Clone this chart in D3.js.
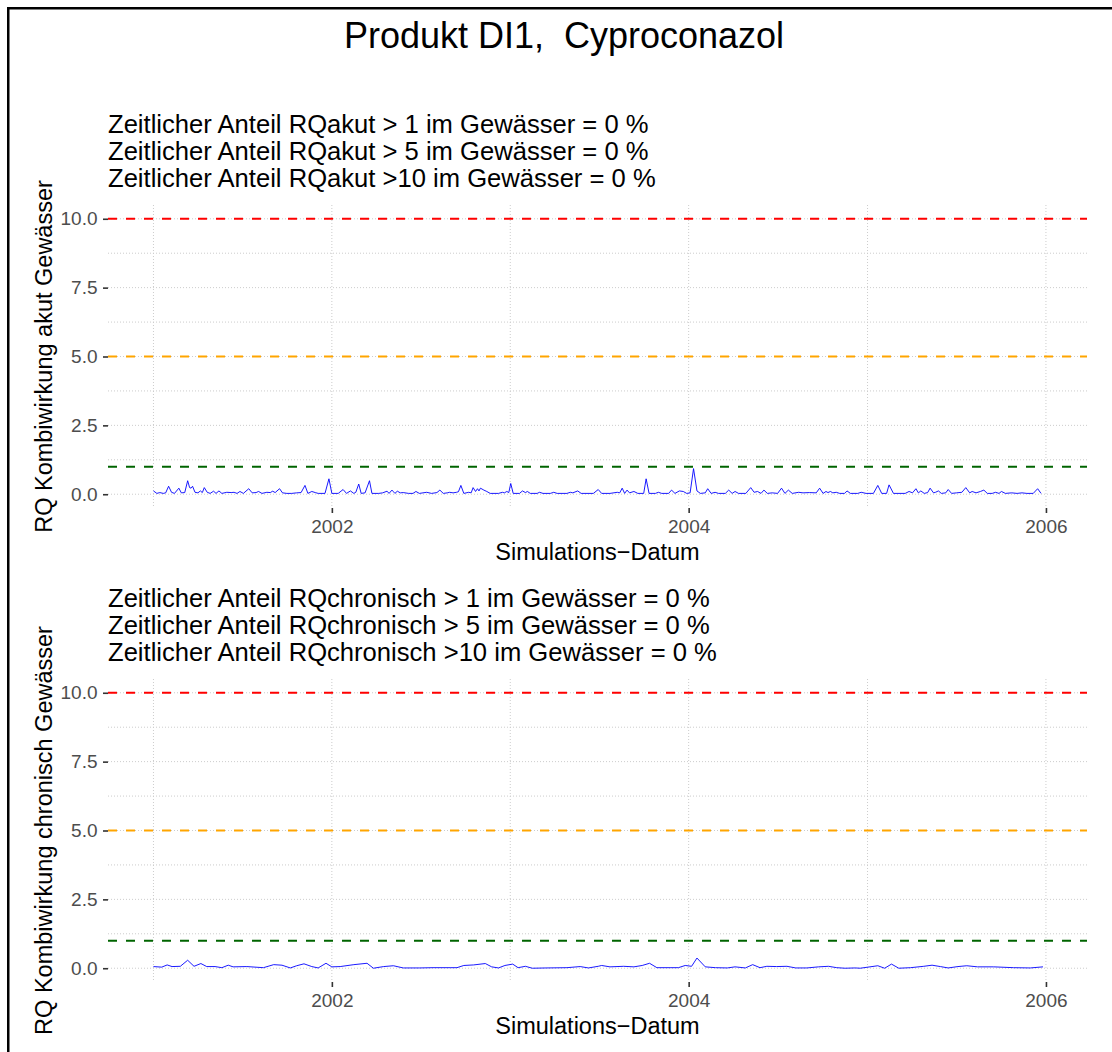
<!DOCTYPE html>
<html>
<head>
<meta charset="utf-8">
<script src="https://cdn.jsdelivr.net/npm/d3@7"></script>
<style>
  html, body { margin: 0; padding: 0; background: #fff; }
  svg { display: block; font-family: "Liberation Sans", Arial, Helvetica, sans-serif; }
</style>
</head>
<body>
<svg id="chart" width="1112" height="1052"></svg>
<script>
// ---------------- data ----------------
const chartTitle = "Produkt DI1,  Cyproconazol";
const startDate = "2001-01-01";          // day 0 of the simulation
const xDomainDates = ["2000-09-30", "2006-03-26"];
const xTickYears = [2002, 2004, 2006];
const xMinorYears = [2001, 2003, 2005];
const yTicks = [0, 2.5, 5, 7.5, 10];
const yMinor = [1.25, 3.75, 6.25, 8.75];
const yDomain = [-0.5, 10.5];
const thresholdValues = [10, 5, 1];
const thresholdColors = ["#FF0000", "#FFA500", "#006400"];
const xAxisTitle = "Simulations\u2212Datum";
const yTitleAcute = "RQ Kombiwirkung akut Gewässer";
const yTitleChronic = "RQ Kombiwirkung chronisch Gewässer";
const subtitleAcute = [
  "Zeitlicher Anteil RQakut > 1 im Gewässer = 0 %",
  "Zeitlicher Anteil RQakut > 5 im Gewässer = 0 %",
  "Zeitlicher Anteil RQakut >10 im Gewässer = 0 %"
];
const subtitleChronic = [
  "Zeitlicher Anteil RQchronisch > 1 im Gewässer = 0 %",
  "Zeitlicher Anteil RQchronisch > 5 im Gewässer = 0 %",
  "Zeitlicher Anteil RQchronisch >10 im Gewässer = 0 %"
];

// acute RQ: simulation day, value
const acuteDays = [0,7,13,20,25,31,37,43,52,57,64,70,74,77,80,85,91,96,100,104,110,116,123,128,134,140,150,159,165,171,177,184,195,202,210,215,222,232,239,244,249,258,264,273,283,293,302,310,316,324,331,337,351,359,365,378,388,395,403,410,414,420,425,433,442,447,461,469,478,482,488,491,494,499,505,511,522,531,537,544,559,569,580,586,593,601,606,613,620,624,629,635,645,650,654,659,663,666,669,676,682,689,706,714,718,723,727,731,736,749,755,761,765,771,785,790,797,812,819,826,846,853,858,868,875,900,910,917,934,949,954,959,964,969,974,983,991,1003,1008,1014,1027,1033,1040,1054,1060,1067,1076,1084,1091,1098,1105,1112,1119,1129,1134,1141,1149,1156,1170,1177,1184,1190,1197,1212,1222,1229,1236,1243,1249,1256,1266,1277,1285,1292,1299,1307,1320,1329,1342,1356,1363,1370,1376,1380,1385,1390,1397,1404,1414,1419,1426,1441,1448,1458,1473,1482,1490,1500,1505,1514,1538,1546,1553,1560,1565,1570,1577,1584,1589,1596,1600,1606,1612,1621,1626,1633,1643,1654,1662,1670,1675,1683,1692,1699,1706,1716,1723,1730,1735,1743,1756,1767,1777,1787,1800,1809,1816];
const acuteValues = [0.12,0.03,0.06,0.03,0.05,0.29,0.07,0.03,0.22,0.05,0.06,0.49,0.24,0.22,0.29,0.07,0.05,0.12,0.06,0.24,0.07,0.03,0.11,0.03,0.12,0.03,0.07,0.06,0.07,0.03,0.10,0.03,0.20,0.05,0.06,0.10,0.03,0.07,0.06,0.11,0.06,0.20,0.05,0.03,0.03,0.05,0.06,0.32,0.03,0.10,0.06,0.03,0.03,0.56,0.03,0.03,0.17,0.03,0.12,0.03,0.07,0.37,0.03,0.05,0.49,0.03,0.03,0.05,0.11,0.03,0.15,0.09,0.03,0.11,0.05,0.06,0.03,0.03,0.10,0.03,0.07,0.03,0.06,0.15,0.03,0.05,0.07,0.05,0.07,0.09,0.32,0.03,0.07,0.05,0.24,0.10,0.20,0.12,0.22,0.15,0.10,0.03,0.03,0.07,0.05,0.10,0.06,0.39,0.03,0.03,0.12,0.06,0.10,0.03,0.03,0.07,0.03,0.03,0.07,0.03,0.03,0.07,0.05,0.12,0.03,0.03,0.17,0.03,0.03,0.07,0.05,0.22,0.03,0.15,0.05,0.10,0.03,0.03,0.56,0.03,0.03,0.07,0.03,0.03,0.15,0.03,0.12,0.10,0.03,0.05,0.93,0.12,0.03,0.05,0.20,0.03,0.07,0.03,0.03,0.15,0.03,0.10,0.03,0.03,0.24,0.07,0.10,0.03,0.15,0.03,0.05,0.03,0.22,0.03,0.15,0.03,0.07,0.05,0.06,0.05,0.22,0.03,0.10,0.06,0.10,0.05,0.07,0.03,0.03,0.12,0.03,0.03,0.07,0.03,0.03,0.32,0.03,0.03,0.34,0.03,0.03,0.10,0.05,0.20,0.05,0.12,0.03,0.06,0.22,0.05,0.07,0.12,0.03,0.05,0.17,0.03,0.05,0.07,0.24,0.05,0.10,0.05,0.10,0.15,0.03,0.03,0.07,0.03,0.10,0.03,0.05,0.03,0.05,0.03,0.03,0.20,0.03];

// chronic RQ: simulation day, value
const chronicDays = [0,17,28,38,55,70,83,97,109,126,140,153,163,191,225,246,263,280,293,308,324,337,353,365,382,410,437,450,471,491,511,545,572,607,621,635,655,679,692,706,719,735,746,761,775,805,846,873,890,910,917,934,962,983,1000,1015,1030,1057,1074,1088,1101,1112,1129,1150,1174,1190,1211,1226,1241,1255,1275,1296,1314,1337,1361,1381,1398,1415,1436,1446,1466,1482,1496,1510,1525,1549,1576,1593,1610,1626,1646,1664,1686,1719,1760,1794,1820];
const chronicValues = [0.06,0.04,0.12,0.06,0.07,0.29,0.07,0.17,0.06,0.06,0.02,0.11,0.05,0.06,0.02,0.13,0.11,0.01,0.09,0.16,0.06,0.01,0.18,0.05,0.06,0.13,0.18,0.00,0.06,0.09,0.01,0.01,0.02,0.02,0.02,0.10,0.12,0.17,0.05,0.01,0.10,0.15,0.02,0.07,0.00,0.01,0.02,0.06,0.01,0.07,0.10,0.05,0.07,0.05,0.10,0.18,0.02,0.02,0.02,0.10,0.07,0.37,0.05,0.02,0.01,0.05,0.01,0.13,0.02,0.07,0.06,0.07,0.01,0.01,0.05,0.07,0.02,0.00,0.01,0.00,0.05,0.09,0.00,0.15,0.00,0.02,0.07,0.11,0.06,0.01,0.06,0.09,0.05,0.05,0.02,0.01,0.05];

// ---------------- drawing ----------------
const svg = d3.select("#chart");
const W = 1112, H = 1052;
const FONT = "'Liberation Sans', Arial, Helvetica, sans-serif";

svg.append("rect").attr("x", 0).attr("y", 0).attr("width", W).attr("height", H).attr("fill", "#fff");
svg.append("rect").attr("x", 8.25).attr("y", 8.25).attr("width", 1300).attr("height", 1300)
  .attr("fill", "none").attr("stroke", "#000").attr("stroke-width", 2.5);

svg.append("text")
  .attr("x", 564).attr("y", 48)
  .attr("text-anchor", "middle")
  .attr("font-size", 36).attr("fill", "#000")
  .style("white-space", "pre")
  .text(chartTitle);

const day0 = d3.utcParse("%Y-%m-%d")(startDate);
const toDate = d => d3.utcDay.offset(day0, d);
const parse = d3.utcParse("%Y-%m-%d");

const left = 108, right = 1087;
const x = d3.scaleUtc().domain(xDomainDates.map(parse)).range([left, right]);

function drawPanel(offset, days, values, subtitles, yTitle) {
  const top = 205 + offset, bottom = 508 + offset;
  const y = d3.scaleLinear().domain(yDomain).range([bottom, top]);
  const g = svg.append("g");

  // subtitles
  subtitles.forEach((s, i) => {
    g.append("text").attr("x", left).attr("y", 133 + offset + i * 27)
      .attr("font-size", 25.6).attr("fill", "#000").style("white-space", "pre").text(s);
  });

  // grid
  const grid = g.append("g").attr("stroke", "#cccccc").attr("stroke-width", 1)
    .attr("stroke-dasharray", "1,2").attr("fill", "none");
  yMinor.concat(yTicks).forEach(v => {
    grid.append("line").attr("x1", left).attr("x2", right)
      .attr("y1", y(v)).attr("y2", y(v));
  });
  xMinorYears.concat(xTickYears).forEach(yr => {
    const xv = x(new Date(Date.UTC(yr, 0, 1)));
    grid.append("line").attr("x1", xv).attr("x2", xv).attr("y1", top).attr("y2", bottom);
  });

  // data line
  const pts = days.map((d, i) => [toDate(d), values[i]]);
  g.append("path").datum(pts)
    .attr("fill", "none").attr("stroke", "#0000FF").attr("stroke-width", 0.9)
    .attr("stroke-linejoin", "round")
    .attr("d", d3.line().x(p => x(p[0])).y(p => y(p[1])));

  // threshold lines
  thresholdValues.forEach((v, i) => {
    g.append("line").attr("x1", left).attr("x2", right)
      .attr("y1", y(v)).attr("y2", y(v))
      .attr("stroke", thresholdColors[i]).attr("stroke-width", 2)
      .attr("stroke-dasharray", "9,9");
  });

  // axes
  const ya = g.append("g").attr("transform", `translate(${left},0)`)
    .call(d3.axisLeft(y).tickValues(yTicks).tickSize(5).tickPadding(5.5).tickFormat(d3.format(".1f")));
  const xa = g.append("g").attr("transform", `translate(0,${bottom})`)
    .call(d3.axisBottom(x).tickValues(xTickYears.map(yr => new Date(Date.UTC(yr, 0, 1))))
      .tickSize(5).tickPadding(6.5).tickFormat(d3.utcFormat("%Y")));
  [ya, xa].forEach(a => {
    a.select(".domain").remove();
    a.selectAll(".tick line").attr("stroke", "#333333").attr("stroke-width", 1.6);
    a.selectAll(".tick text").attr("fill", "#4D4D4D").attr("font-size", 19).attr("font-family", FONT);
  });

  // axis titles
  g.append("text").attr("x", (left + right) / 2).attr("y", 560 + offset)
    .attr("text-anchor", "middle").attr("font-size", 23.5).attr("fill", "#000").text(xAxisTitle);
  g.append("text")
    .attr("transform", `translate(51.5,${(top + bottom) / 2}) rotate(-90)`)
    .attr("text-anchor", "middle").attr("font-size", 23.5).attr("fill", "#000").text(yTitle);
}

drawPanel(0, acuteDays, acuteValues, subtitleAcute, yTitleAcute);
drawPanel(474, chronicDays, chronicValues, subtitleChronic, yTitleChronic);
</script>
</body>
</html>
